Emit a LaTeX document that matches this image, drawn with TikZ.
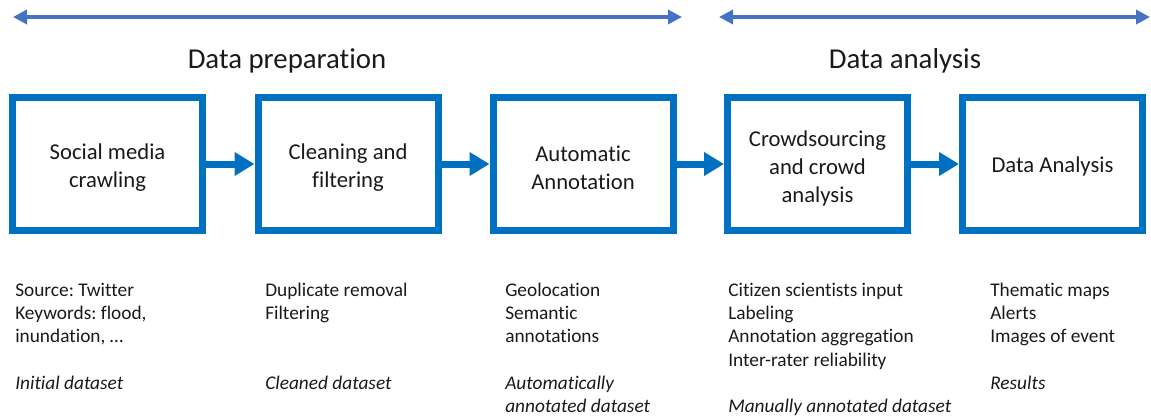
\documentclass[tikz,border=0pt]{standalone}
\usepackage{fontspec}
\setmainfont{Carlito}[Ligatures=NoCommon]
\usetikzlibrary{arrows.meta}
\definecolor{boxblue}{HTML}{0070C0}
\definecolor{spanblue}{HTML}{4472C4}
\definecolor{txt}{HTML}{1A1A1A}
\frenchspacing
\begin{document}
\begin{tikzpicture}[x=0.75pt,y=-0.75pt,
  stage/.style={draw=boxblue, line width=5.25pt, minimum width=135pt, minimum height=99.75pt, inner sep=0},
  stagetext/.style={align=center, font=\fontsize{17}{21}\selectfont, inner sep=0, text=txt},
  flow/.style={draw=boxblue, line width=5.25pt, -{Triangle[length=15pt,width=17pt]}},
  span/.style={draw=spanblue, line width=3pt,
    {Triangle[length=10.5pt,width=10.5pt]}-{Triangle[length=10.5pt,width=10.5pt]}},
  title/.style={font=\fontsize{21.6}{25}\selectfont, anchor=base, inner sep=0, text=txt},
  note/.style={anchor=north west, inner sep=0, align=left,
    font=\fontsize{14.5}{17.5}\selectfont, text=txt}]
\useasboundingbox (0,0) rectangle (1151,419);

% top spans
\coordinate (pl) at (13,17);
\coordinate (pr) at (682,17);
\coordinate (al) at (719,17);
\coordinate (ar) at (1150,17);
\draw[span] (pl) -- (pr);
\draw[span] (al) -- (ar);

% titles
\node[title] (tprep) at (287,68) {Data preparation};
\node[title] (tanal) at (905,68) {Data analysis};

% stages
\node[stage, minimum width=142.5pt] (b1) at (107.5,164) {};
\node[stage] (b2) at (348,164) {};
\node[stage] (b3) at (583,164) {};
\node[stage] (b4) at (817.5,164) {};
\node[stage] (b5) at (1052.5,164) {};

\node[stagetext] (s1) at ([yshift=-3pt]b1.center) {Social media\\crawling};
\node[stagetext] (s2) at ([yshift=-3pt]b2.center) {Cleaning and\\filtering};
\node[stagetext] (s3) at ([yshift=-3pt]b3.center) {Automatic\\Annotation};
\node[stagetext] (s4) at ([yshift=-3pt]b4.center) {Crowdsourcing\\and crowd\\analysis};
\node[stagetext] (s5) at ([yshift=-2pt]b5.center) {Data Analysis};

\draw[flow] (b1.east) -- (b2.west);
\draw[flow] (b2.east) -- (b3.west);
\draw[flow] (b3.east) -- (b4.west);
\draw[flow] (b4.east) -- (b5.west);

% notes
\node[note] (n1) at (15,279.5) {\strut Source: Twitter\\Keywords: flood,\\inundation, …\\\mbox{}\\\textit{Initial dataset}};
\node[note] (n2) at (265,279.5) {\strut Duplicate removal\\Filtering\\\mbox{}\\\mbox{}\\\textit{Cleaned dataset}};
\node[note] (n3) at (505,279.5) {\strut Geolocation\\Semantic\\annotations\\\mbox{}\\\textit{Automatically}\\\textit{annotated dataset}};
\node[note] (n4) at (728,279.5) {\strut Citizen scientists input\\Labeling\\Annotation aggregation\\Inter-rater reliability\\\mbox{}\\\textit{Manually annotated dataset}};
\node[note] (n5) at (990,279.5) {\strut Thematic maps\\Alerts\\Images of event\\\mbox{}\\\textit{Results}};
\end{tikzpicture}
\end{document}
